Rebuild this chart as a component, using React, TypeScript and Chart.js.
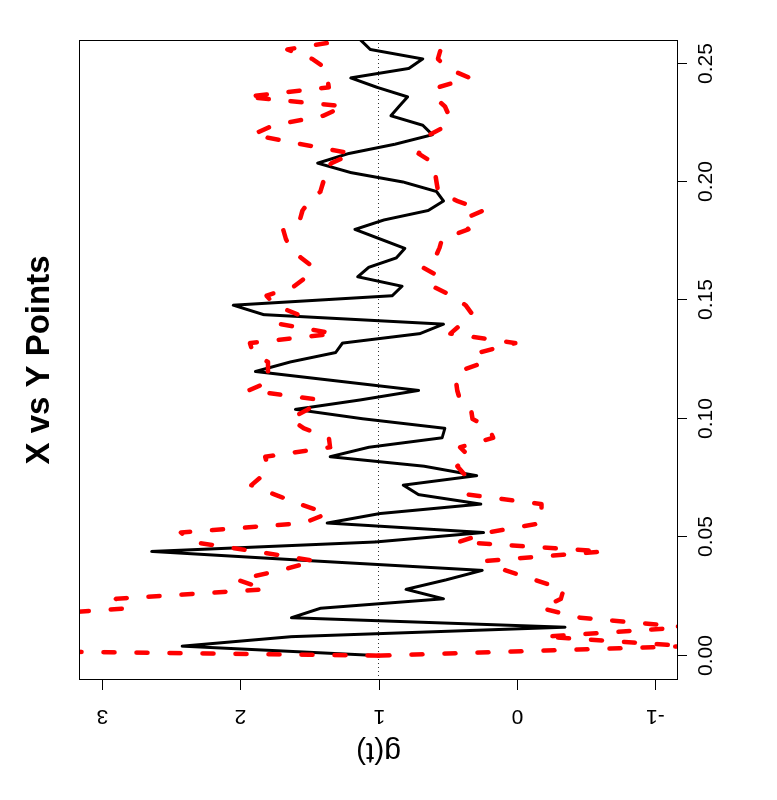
import { useEffect, useRef } from "react";
import { Chart, registerables } from "chart.js";

Chart.register(...registerables);

// distance values t (x axis of the original, un-rotated plot)
const tValues = [
  0, 0.004, 0.008, 0.012, 0.016, 0.02, 0.024, 0.028, 0.032, 0.036,
  0.04, 0.044, 0.048, 0.052, 0.056, 0.06, 0.064, 0.068, 0.072, 0.076,
  0.08, 0.084, 0.088, 0.092, 0.096, 0.1, 0.104, 0.108, 0.112, 0.116,
  0.12, 0.124, 0.128, 0.132, 0.136, 0.14, 0.144, 0.148, 0.152, 0.156,
  0.16, 0.164, 0.168, 0.172, 0.176, 0.18, 0.184, 0.188, 0.192, 0.196,
  0.2, 0.204, 0.208, 0.212, 0.216, 0.22, 0.224, 0.228, 0.232, 0.236,
  0.24, 0.244, 0.248, 0.252, 0.256, 0.26,
];

// observed g(t) (black solid)
const observed = [
  1.0, 2.42, 1.63, -0.35, 1.63, 1.42, 0.53, 0.8, 0.51, 0.25,
  1.47, 2.64, 1.02, 0.24, 1.37, 0.99, 0.26, 0.71, 0.82, 0.29,
  0.67, 1.35, 1.07, 0.54, 0.52, 1.11, 1.6, 1.13, 0.71, 1.3,
  1.89, 1.64, 1.31, 1.26, 0.7, 0.53, 1.83, 2.05, 0.9, 0.83,
  1.15, 1.07, 0.87, 0.81, 0.99, 1.17, 0.96, 0.64, 0.53, 0.58,
  0.82, 1.2, 1.44, 1.22, 0.88, 0.61, 0.68, 0.91, 0.85, 0.79,
  1.01, 1.2, 0.78, 0.68, 1.06, 1.13,
];

// upper envelope (red dashed)
const upper = [
  1.0, 6.5, 6.0, 5.0, 3.8, 2.81, 2.9, 1.82, 2.02, 1.71,
  1.46, 1.89, 2.35, 2.43, 1.54, 1.37, 1.57, 1.75, 1.92, 1.84,
  1.8, 1.82, 1.35, 1.36, 1.54, 1.64, 1.51, 1.42, 1.94, 1.78,
  1.8, 1.8, 1.91, 1.93, 1.32, 1.71, 1.58, 1.75, 1.81, 1.61,
  1.52, 1.47, 1.56, 1.64, 1.67, 1.69, 1.57, 1.55, 1.5, 1.42,
  1.4, 1.41, 1.34, 1.19, 1.56, 1.91, 1.76, 1.4, 1.25, 1.96,
  1.36, 1.37, 1.38, 1.48, 1.66, 1.24,
];

// lower envelope (red dashed)
const lower = [
  1.0, -1.24, -0.2, -1.23, -0.46, -0.18, -0.32, -0.34, -0.13, 0.08,
  0.22, -0.63, 0.42, 0.21, -0.18, -0.18, -0.18, 0.35, 0.35, 0.37,
  0.43, 0.34, 0.41, 0.17, 0.2, 0.32, 0.33, 0.41, 0.43, 0.44,
  0.42, 0.23, 0.27, 0.01, 0.48, 0.4, 0.32, 0.37, 0.47, 0.61,
  0.56, 0.68, 0.59, 0.56, 0.54, 0.35, 0.4, 0.24, 0.43, 0.57,
  0.58, 0.59, 0.6, 0.71, 0.67, 0.63, 0.5, 0.49, 0.52, 0.6,
  0.57, 0.34, 0.5, 0.57, 0.55, 0.59,
];

// horizontal reference line g = 1 across the whole plot
const refT = [-0.0103, 0.26];
const refG = [1, 1];

const tTicks = [0, 0.05, 0.1, 0.15, 0.2, 0.25];
const tTickLabels = ["0.00", "0.05", "0.10", "0.15", "0.20", "0.25"];
const gTicks = [-1, 0, 1, 2, 3];
const gTickLabels = ["-1", "0", "1", "2", "3"];

const TITLE = "X vs Y Points";
const Y_LABEL = "g(t)";

// un-rotated canvas size (it is turned 90deg counter-clockwise on the page)
const CW = 800;
const CH = 777;

const toPoints = (xs: number[], ys: number[]) => xs.map((x, i) => ({ x, y: ys[i] }));

export default function App() {
  const ref = useRef<HTMLCanvasElement | null>(null);

  useEffect(() => {
    const canvas = ref.current;
    if (!canvas) return;
    const FONT = '"Liberation Sans", Arial, Helvetica, sans-serif';

    const rAxes = {
      id: "rAxes",
      afterDraw(chart: any) {
        const { ctx, chartArea: a, scales } = chart;
        const xs = scales.x;
        const ys = scales.y;
        ctx.save();
        ctx.strokeStyle = "#000";
        ctx.fillStyle = "#000";
        ctx.lineWidth = 1;
        // box
        ctx.strokeRect(a.left + 0.5, a.top - 0.5, a.right - a.left - 1, a.bottom - a.top + 1);
        // x ticks + labels
        ctx.font = `21px ${FONT}`;
        ctx.textAlign = "center";
        ctx.textBaseline = "middle";
        tTicks.forEach((v, i) => {
          const px = Math.round(xs.getPixelForValue(v)) + 0.5;
          ctx.beginPath();
          ctx.moveTo(px, a.bottom);
          ctx.lineTo(px, a.bottom + 10);
          ctx.stroke();
          ctx.fillText(tTickLabels[i], px, a.bottom + 29);
        });
        // y ticks + labels (rotated like R's las=0)
        gTicks.forEach((v, i) => {
          const py = Math.round(ys.getPixelForValue(v)) + 0.5;
          ctx.beginPath();
          ctx.moveTo(a.left, py);
          ctx.lineTo(a.left - 10, py);
          ctx.stroke();
          ctx.save();
          ctx.translate(a.left - 36, py);
          ctx.rotate(-Math.PI / 2);
          ctx.fillText(gTickLabels[i], 0, 0);
          ctx.restore();
        });
        // y axis label
        ctx.save();
        ctx.font = `30px ${FONT}`;
        ctx.translate(a.left - 71, (a.top + a.bottom) / 2);
        ctx.rotate(-Math.PI / 2);
        ctx.fillText(Y_LABEL, 0, 0);
        ctx.restore();
        // title
        ctx.font = `bold 33px ${FONT}`;
        ctx.fillText(TITLE, (a.left + a.right) / 2, 40);
        ctx.restore();
      },
    };

    const dashed = {
      borderColor: "#ff0000",
      borderWidth: 4.5,
      borderDash: [11, 22],
      borderCapStyle: "round" as const,
      borderJoinStyle: "round" as const,
      pointRadius: 0,
      tension: 0,
      fill: false,
      clip: 0,
    };

    const chart = new Chart(canvas, {
      type: "line",
      data: {
        datasets: [
          {
            label: "ref",
            data: toPoints(refT, refG),
            borderColor: "#333",
            borderWidth: 1,
            borderDash: [1, 3],
            pointRadius: 0,
            fill: false,
            order: 4,
            clip: 0,
          },
          {
            label: "obs",
            data: toPoints(tValues, observed),
            borderColor: "#000",
            borderWidth: 3,
            borderJoinStyle: "round",
            borderCapStyle: "round",
            pointRadius: 0,
            tension: 0,
            fill: false,
            order: 3,
            clip: 0,
          },
          { label: "hi", data: toPoints(tValues, upper), ...dashed, order: 2 },
          { label: "lo", data: toPoints(tValues, lower), ...dashed, order: 1 },
        ],
      },
      options: {
        animation: false,
        responsive: false,
        devicePixelRatio: 1,
        parsing: true,
        layout: { padding: { left: 120, right: 40, top: 80, bottom: 100 } },
        scales: {
          x: { type: "linear", min: -0.0103, max: 0.26, display: false },
          y: { type: "linear", min: -1.16, max: 3.16, display: false },
        },
        plugins: {
          legend: { display: false },
          tooltip: { enabled: false },
        },
      },
      plugins: [rAxes],
    });
    return () => chart.destroy();
  }, []);

  return (
    <div
      style={{
        position: "absolute",
        left: 0,
        top: 0,
        width: 777,
        height: 800,
        overflow: "hidden",
        background: "#fff",
      }}
    >
      <canvas
        ref={ref}
        width={CW}
        height={CH}
        style={{
          position: "absolute",
          left: 0,
          top: 0,
          width: CW,
          height: CH,
          transformOrigin: "0 0",
          transform: `translateY(${CW}px) rotate(-90deg)`,
        }}
      />
    </div>
  );
}
